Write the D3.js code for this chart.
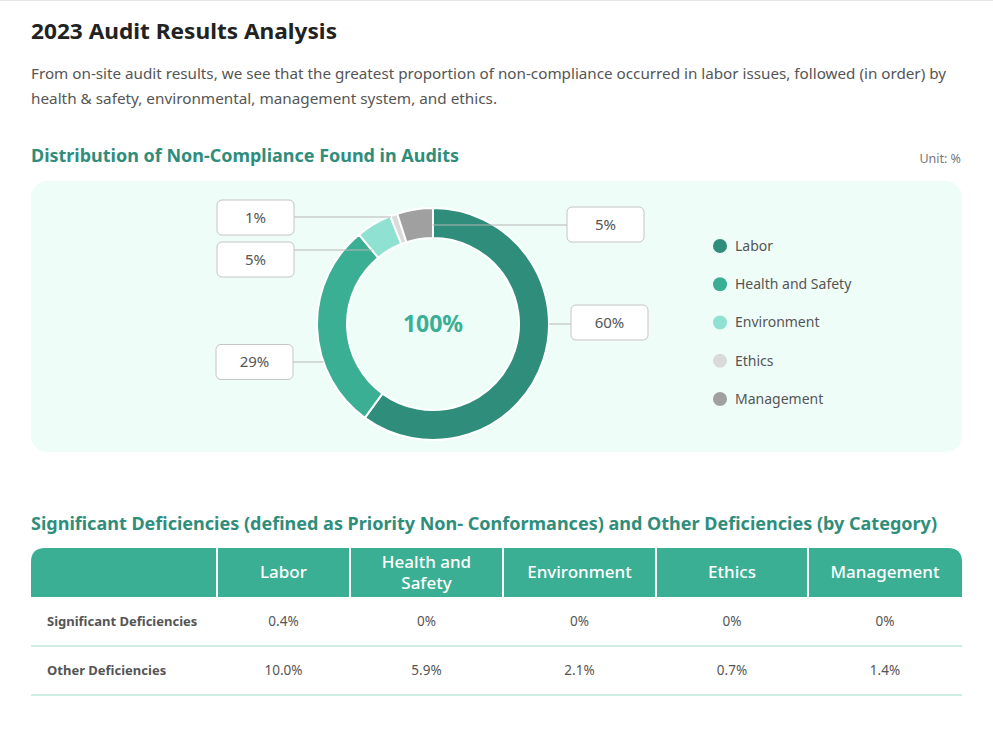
<!DOCTYPE html>
<html>
<head>
<meta charset="utf-8">
<script src="https://cdn.jsdelivr.net/npm/d3@7"></script>
<style>
  body { margin: 0; background: #fff; }
  svg { display: block; font-family: "Noto Sans", "Open Sans", sans-serif; }
</style>
</head>
<body>
<svg id="chart" width="993" height="731"></svg>
<script>
// pie data
let categories = ["Labor", "Health and Safety", "Environment", "Ethics", "Management"];
let shares = [60, 29, 5, 1, 5];
let colors = ["#2f8d7b", "#3aaf93", "#8fe2d2", "#dadada", "#a0a0a0"];

// table data
let tableColumns = ["Labor", "Health and\nSafety", "Environment", "Ethics", "Management"];
let rowNames = ["Significant Deficiencies", "Other Deficiencies"];
let significantValues = ["0.4%", "0%", "0%", "0%", "0%"];
let otherValues = ["10.0%", "5.9%", "2.1%", "0.7%", "1.4%"];

let svg = d3.select("#chart");

// top page border
svg.append("line")
    .attr("x1", 0).attr("x2", 993).attr("y1", 0.5).attr("y2", 0.5)
    .style("stroke", "#e6e6e6");

// headings
svg.append("text")
    .attr("x", 31).attr("y", 39)
    .attr("font-size", 21).attr("font-weight", "bold")
    .attr("fill", "#222")
    .attr("textLength", 306).attr("lengthAdjust", "spacingAndGlyphs")
    .text("2023 Audit Results Analysis");

let intro = [
    "From on-site audit results, we see that the greatest proportion of non-compliance occurred in labor issues, followed (in order) by",
    "health & safety, environmental, management system, and ethics."
];
let introWidths = [915, 466];
svg.selectAll("text.intro")
    .data(intro)
    .enter()
    .append("text")
    .attr("class", "intro")
    .attr("x", 31)
    .attr("y", (d, i) => 79 + i * 25)
    .attr("font-size", 14.5)
    .attr("fill", "#555")
    .attr("textLength", (d, i) => introWidths[i])
    .attr("lengthAdjust", "spacingAndGlyphs")
    .text(d => d);

svg.append("text")
    .attr("x", 31).attr("y", 162)
    .attr("font-size", 17).attr("font-weight", "bold")
    .attr("fill", "#2f8d7b")
    .attr("textLength", 428).attr("lengthAdjust", "spacingAndGlyphs")
    .text("Distribution of Non-Compliance Found in Audits");

svg.append("text")
    .attr("x", 961).attr("y", 163)
    .attr("text-anchor", "end")
    .attr("font-size", 12.5).attr("fill", "#777")
    .text("Unit: %");

// panel
svg.append("rect")
    .attr("x", 31).attr("y", 181)
    .attr("width", 931).attr("height", 271)
    .attr("rx", 16)
    .attr("fill", "#effdf9");

// donut
let cx = 433, cy = 324, rIn = 86, rOut = 116;
let pieGen = d3.pie().sort(null).value(d => d);
let arcs = pieGen(shares);
let arc = d3.arc().innerRadius(rIn).outerRadius(rOut);

let donut = svg.append("g").attr("transform", `translate(${cx}, ${cy})`);
donut.selectAll("path")
    .data(arcs)
    .enter()
    .append("path")
    .attr("d", d => arc(d))
    .attr("fill", (d, i) => colors[i])
    .style("stroke", "#fff")
    .style("stroke-width", 2);

donut.append("text")
    .attr("text-anchor", "middle")
    .attr("dy", "0.36em")
    .attr("font-size", 23).attr("font-weight", "bold")
    .attr("fill", "#3aaf93")
    .text(d3.sum(shares) + "%");

// label placement: side, leader line offset, box centre offset
let labelPlace = [
    {side: 1, dy: 0, by: -1.5, bx: 571},
    {side: -1, dy: 38, by: 38, bx: 216},
    {side: -1, dy: -74, by: -64.5, bx: 217},
    {side: -1, dy: -107, by: -106.5, bx: 217},
    {side: 1, dy: -99, by: -99.5, bx: 567}
];
let boxW = 77, boxH = 35;

// find the point of the slice at a given height nearest to the label
let edgePoint = (d, dy, side) => {
    let best = null;
    for (let x = -rOut; x <= rOut; x += 0.5) {
        let r = Math.sqrt(x * x + dy * dy);
        if (r < rIn || r > rOut) continue;
        let a = Math.atan2(x, -dy);
        if (a < 0) a += 2 * Math.PI;
        if (a < d.startAngle || a > d.endAngle) continue;
        if (best === null || x * side > best * side) best = x;
    }
    return best;
};

let labels = svg.selectAll("g.lbl")
    .data(arcs)
    .enter()
    .append("g")
    .attr("class", "lbl");

labels.append("line")
    .attr("x1", (d, i) => {
        let p = labelPlace[i];
        return p.side > 0 ? p.bx : p.bx + boxW;
    })
    .attr("x2", (d, i) => {
        let p = labelPlace[i];
        return cx + edgePoint(d, p.dy, p.side);
    })
    .attr("y1", (d, i) => cy + labelPlace[i].dy)
    .attr("y2", (d, i) => cy + labelPlace[i].dy)
    .style("stroke", "#b5b5b5")
    .style("stroke-width", 1);

labels.append("rect")
    .attr("x", (d, i) => labelPlace[i].bx)
    .attr("y", (d, i) => cy + labelPlace[i].by - boxH / 2)
    .attr("width", boxW).attr("height", boxH)
    .attr("rx", 5)
    .attr("fill", "#fff")
    .style("stroke", "#c4c4c4");

labels.append("text")
    .attr("x", (d, i) => labelPlace[i].bx + boxW / 2)
    .attr("y", (d, i) => cy + labelPlace[i].by)
    .attr("dy", "0.35em")
    .attr("text-anchor", "middle")
    .attr("font-size", 15).attr("fill", "#555")
    .text(d => d.value + "%");

// legend
let legendY = d3.scalePoint().domain(categories).range([246, 399]);
let legend = svg.selectAll("g.legend")
    .data(categories)
    .enter()
    .append("g")
    .attr("class", "legend")
    .attr("transform", d => `translate(720, ${legendY(d)})`);
legend.append("circle")
    .attr("r", 7)
    .attr("fill", (d, i) => colors[i]);
legend.append("text")
    .attr("x", 15).attr("dy", "0.35em")
    .attr("font-size", 14).attr("fill", "#555")
    .text(d => d);

// table
svg.append("text")
    .attr("x", 31).attr("y", 530)
    .attr("font-size", 17).attr("font-weight", "bold")
    .attr("fill", "#2f8d7b")
    .attr("textLength", 906).attr("lengthAdjust", "spacingAndGlyphs")
    .text("Significant Deficiencies (defined as Priority Non- Conformances) and Other Deficiencies (by Category)");

let colEdges = [31, 217, 350, 503, 656, 808, 962];
let headTop = 548, headH = 49, rowH = 49;

svg.append("path")
    .attr("d", () => {
        let x0 = 31, x1 = 962, y0 = headTop, y1 = headTop + headH, r = 14;
        return `M${x0},${y1} V${y0 + r} Q${x0},${y0} ${x0 + r},${y0} H${x1 - r} Q${x1},${y0} ${x1},${y0 + r} V${y1} Z`;
    })
    .attr("fill", "#3aaf93");

svg.selectAll("line.sep")
    .data(colEdges.slice(1, -1))
    .enter()
    .append("line")
    .attr("class", "sep")
    .attr("x1", d => d).attr("x2", d => d)
    .attr("y1", headTop).attr("y2", headTop + headH)
    .style("stroke", "#fff").style("stroke-width", 2);

let colMid = (i) => (colEdges[i + 1] + colEdges[i + 2]) / 2;

let heads = svg.selectAll("text.head")
    .data(tableColumns)
    .enter()
    .append("text")
    .attr("class", "head")
    .attr("text-anchor", "middle")
    .attr("font-size", 17).attr("font-weight", 500).attr("fill", "#fff");
heads.each(function (d, i) {
    let lines = d.split("\n");
    let t = d3.select(this);
    lines.forEach((ln, j) => {
        t.append("tspan")
            .attr("x", colMid(i))
            .attr("y", headTop + headH / 2 + (j - (lines.length - 1) / 2) * 21)
            .attr("dy", "0.35em")
            .text(ln);
    });
});

let rows = [significantValues, otherValues];
rows.forEach((vals, r) => {
    let yMid = headTop + headH + r * rowH + rowH / 2;
    svg.append("text")
        .attr("x", 47).attr("y", yMid).attr("dy", "0.35em")
        .attr("font-size", 13).attr("font-weight", "bold")
        .attr("fill", "#555")
        .text(rowNames[r]);
    svg.selectAll("text.v" + r)
        .data(vals)
        .enter()
        .append("text")
        .attr("class", "v" + r)
        .attr("x", (d, i) => colMid(i))
        .attr("y", yMid).attr("dy", "0.35em")
        .attr("text-anchor", "middle")
        .attr("font-size", 13.5).attr("fill", "#555")
        .text(d => d);
    svg.append("line")
        .attr("x1", 31).attr("x2", 962)
        .attr("y1", headTop + headH + (r + 1) * rowH)
        .attr("y2", headTop + headH + (r + 1) * rowH)
        .style("stroke", "#cdeee5").style("stroke-width", 2);
});
</script>
</body>
</html>
